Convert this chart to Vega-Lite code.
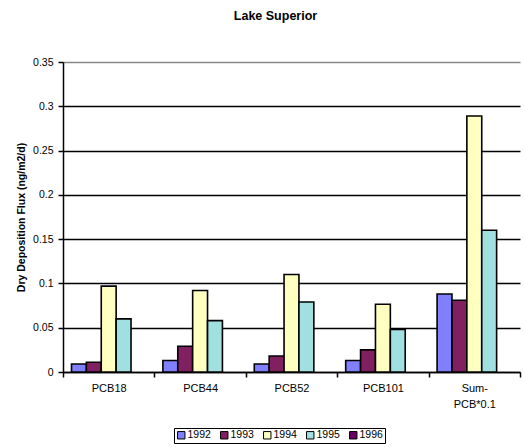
{
  "$schema": "https://vega.github.io/schema/vega-lite/v6.json",
  "width": 457,
  "height": 310,
  "autosize": {"type": "none"},
  "padding": {"left": 63, "top": 62, "right": 5, "bottom": 76},
  "background": "white",
  "title": {
    "text": "Lake Superior",
    "font": "Liberation Sans",
    "fontSize": 12.5,
    "fontWeight": "bold",
    "color": "black",
    "anchor": "middle",
    "frame": "group",
    "dx": -16,
    "offset": 35
  },
  "config": {
    "view": {"stroke": null},
    "font": "Liberation Sans"
  },
  "data": {
    "values": [
      {"compound": "PCB18", "year": "1992", "flux": 0.009},
      {"compound": "PCB18", "year": "1993", "flux": 0.011},
      {"compound": "PCB18", "year": "1994", "flux": 0.097},
      {"compound": "PCB18", "year": "1995", "flux": 0.060},
      {"compound": "PCB44", "year": "1992", "flux": 0.013},
      {"compound": "PCB44", "year": "1993", "flux": 0.029},
      {"compound": "PCB44", "year": "1994", "flux": 0.092},
      {"compound": "PCB44", "year": "1995", "flux": 0.058},
      {"compound": "PCB52", "year": "1992", "flux": 0.009},
      {"compound": "PCB52", "year": "1993", "flux": 0.018},
      {"compound": "PCB52", "year": "1994", "flux": 0.110},
      {"compound": "PCB52", "year": "1995", "flux": 0.079},
      {"compound": "PCB101", "year": "1992", "flux": 0.013},
      {"compound": "PCB101", "year": "1993", "flux": 0.025},
      {"compound": "PCB101", "year": "1994", "flux": 0.0765},
      {"compound": "PCB101", "year": "1995", "flux": 0.048},
      {"compound": "Sum-PCB*0.1", "year": "1992", "flux": 0.088},
      {"compound": "Sum-PCB*0.1", "year": "1993", "flux": 0.081},
      {"compound": "Sum-PCB*0.1", "year": "1994", "flux": 0.289},
      {"compound": "Sum-PCB*0.1", "year": "1995", "flux": 0.160}
    ]
  },
  "mark": {"type": "bar", "stroke": "black", "strokeWidth": 1.6},
  "encoding": {
    "x": {
      "field": "compound",
      "type": "nominal",
      "sort": ["PCB18", "PCB44", "PCB52", "PCB101", "Sum-PCB*0.1"],
      "scale": {"paddingInner": 0, "paddingOuter": 0},
      "axis": {
        "title": null,
        "labelAngle": 0,
        "labelFontSize": 11,
        "labelColor": "black",
        "labelPadding": 5,
        "labelLineHeight": 16,
        "labelExpr": "datum.value == 'Sum-PCB*0.1' ? ['Sum-', 'PCB*0.1'] : datum.value",
        "tickBand": "extent",
        "tickColor": "black",
        "tickSize": 5,
        "tickWidth": 1.5,
        "domainColor": "black",
        "domainWidth": 1.5,
        "grid": false
      }
    },
    "xOffset": {
      "field": "year",
      "type": "nominal",
      "scale": {"domain": ["1992", "1993", "1994", "1995", "1996"], "paddingInner": 0, "paddingOuter": 0.57}
    },
    "y": {
      "field": "flux",
      "type": "quantitative",
      "scale": {"domain": [0, 0.35], "nice": false},
      "axis": {
        "title": "Dry Deposition Flux (ng/m2/d)",
        "titleFontSize": 10.5,
        "titleFontWeight": "bold",
        "titleColor": "black",
        "titlePadding": 6,
        "values": [0, 0.05, 0.1, 0.15, 0.2, 0.25, 0.3, 0.35],
        "labelExpr": "format(datum.value, '~g')",
        "labelFontSize": 10.5,
        "labelColor": "black",
        "labelPadding": 5,
        "tickColor": "black",
        "tickSize": 5,
        "tickWidth": 1.5,
        "domainColor": "black",
        "domainWidth": 1.5,
        "grid": true,
        "gridColor": {"condition": {"test": "datum.value >= 0.35", "value": "#888888"}, "value": "black"},
        "gridWidth": 1.3,
        "gridOpacity": 1
      }
    },
    "color": {
      "field": "year",
      "type": "nominal",
      "scale": {
        "domain": ["1992", "1993", "1994", "1995", "1996"],
        "range": ["#8080FF", "#802060", "#FFFFC0", "#A0E0E0", "#660066"]
      },
      "legend": {
        "title": null,
        "orient": "none",
        "legendX": 111,
        "legendY": 366,
        "direction": "horizontal",
        "columns": 5,
        "symbolType": "square",
        "symbolSize": 55,
        "symbolStrokeColor": "black",
        "symbolStrokeWidth": 1,
        "symbolOpacity": 1,
        "labelFontSize": 10.5,
        "labelColor": "black",
        "labelOffset": 1,
        "columnPadding": 7,
        "strokeColor": "black",
        "padding": 2,
        "fillColor": "white"
      }
    }
  }
}
